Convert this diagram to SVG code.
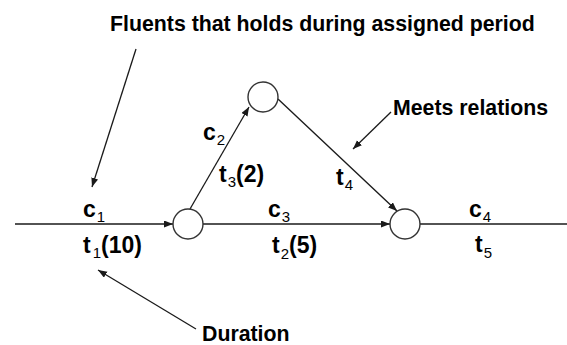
<svg xmlns="http://www.w3.org/2000/svg" width="567" height="345" viewBox="0 0 567 345">
<defs>
<style>
.ln{stroke:#1a1a1a;stroke-width:1.3;fill:none}
.ar{marker-end:url(#ah)}
.nd{fill:#fff;stroke:#333;stroke-width:1.4}
.note{font-family:"Liberation Sans",Arial,sans-serif;font-weight:bold;font-size:21.3px;fill:#000}
.lb{font-family:"Liberation Sans",Arial,sans-serif;font-weight:bold;font-size:23px;fill:#000}
.sb{font-size:15px;font-weight:normal}
</style>
<marker id="ah" markerUnits="userSpaceOnUse" markerWidth="10" markerHeight="8" refX="9" refY="3.5" orient="auto">
<path d="M0,0 L9,3.5 L0,7 z" fill="#1a1a1a"/>
</marker>
</defs>
<rect width="567" height="345" fill="#fff"/>
<g id="connectors">
<line class="ln ar" x1="15" y1="224" x2="173" y2="224"/>
<line class="ln ar" x1="203" y1="224" x2="390" y2="224"/>
<line class="ln" x1="420" y1="224" x2="567" y2="224"/>
<line class="ln ar" x1="190" y1="209" x2="249" y2="107"/>
<line class="ln ar" x1="278" y1="99" x2="397" y2="211"/>
<line class="ln ar" x1="136" y1="49" x2="92" y2="187"/>
<line class="ln ar" x1="391" y1="112" x2="353" y2="149"/>
<line class="ln ar" x1="196" y1="329" x2="98" y2="270"/>
</g>
<g id="node1"><circle class="nd" cx="188" cy="224" r="15"/></g>
<g id="node2"><circle class="nd" cx="263" cy="97" r="15"/></g>
<g id="node3"><circle class="nd" cx="405" cy="224" r="15"/></g>
<g id="labels">
<text class="lb" x="83" y="217">c<tspan class="sb" dx="1" dy="5">1</tspan></text>
<text class="lb" x="83" y="253">t<tspan class="sb" dx="2" dy="5">1</tspan><tspan dy="-5">(10)</tspan></text>
<text class="lb" x="203" y="140">c<tspan class="sb" dx="1" dy="5">2</tspan></text>
<text class="lb" x="219" y="182">t<tspan class="sb" dx="1" dy="5">3</tspan><tspan dy="-5">(2)</tspan></text>
<text class="lb" x="268" y="217">c<tspan class="sb" dx="1" dy="5">3</tspan></text>
<text class="lb" x="272" y="253">t<tspan class="sb" dx="1" dy="6">2</tspan><tspan dy="-6">(5)</tspan></text>
<text class="lb" x="336" y="185">t<tspan class="sb" dx="1" dy="5">4</tspan></text>
<text class="lb" x="469" y="217">c<tspan class="sb" dx="1" dy="5">4</tspan></text>
<text class="lb" x="475" y="252">t<tspan class="sb" dx="1" dy="6">5</tspan></text>
</g>
<g id="notes">
<text class="note" x="110" y="31">Fluents that holds during assigned period</text>
<text class="note" x="393" y="115">Meets relations</text>
<text class="note" x="202" y="341">Duration</text>
</g>
</svg>
